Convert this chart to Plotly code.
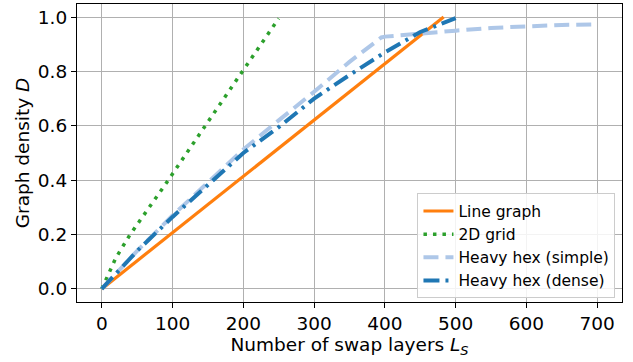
import plotly.graph_objects as go

# Data
line_x = [0, 483]
line_d = [0.0, 1.0]

grid_x = [0, 10, 20, 40, 60, 90, 120, 160, 200, 250]
grid_d = [0.0, 0.055, 0.115, 0.2, 0.272, 0.385, 0.5, 0.655, 0.805, 0.995]

simple_x = [0, 50, 100, 150, 200, 250, 300, 350, 395, 400, 450, 500, 550, 600, 650, 700]
simple_d = [0.0, 0.14, 0.27, 0.39, 0.513, 0.62, 0.725, 0.835, 0.925, 0.928, 0.94, 0.95, 0.96, 0.967, 0.971, 0.973]

dense_x = [0, 50, 100, 150, 200, 250, 300, 350, 400, 450, 500]
dense_d = [0.0, 0.14, 0.265, 0.385, 0.50, 0.595, 0.70, 0.787, 0.87, 0.945, 0.996]

x_ticks = [0, 100, 200, 300, 400, 500, 600, 700]
y_ticks = [0.0, 0.2, 0.4, 0.6, 0.8, 1.0]

FONT = "DejaVu Sans"
TICK_SIZE = 18.5
LEG_SIZE = 15.5

fig = go.Figure()
fig.add_trace(go.Scatter(x=line_x, y=line_d, mode="lines", name="Line graph",
                         line=dict(color="#ff7f0e", width=3.2)))
fig.add_trace(go.Scatter(x=grid_x, y=grid_d, mode="lines", name="2D grid",
                         line=dict(color="#2ca02c", width=3.5, dash="3.5px,6px")))
fig.add_trace(go.Scatter(x=simple_x, y=simple_d, mode="lines", name="Heavy hex (simple)",
                         line=dict(color="#aec7e8", width=4, dash="15px,7px")))
fig.add_trace(go.Scatter(x=dense_x, y=dense_d, mode="lines", name="Heavy hex (dense)",
                         line=dict(color="#1f77b4", width=4, dash="16px,6px,3px,6px")))

axis_common = dict(
    showgrid=True, gridcolor="#b0b0b0", gridwidth=1,
    showline=True, linecolor="black", linewidth=1.2, mirror=True,
    ticks="outside", ticklen=5, tickcolor="black", tickwidth=1,
    zeroline=False, automargin=False,
    tickfont=dict(family=FONT, size=TICK_SIZE, color="black"),
)

fig.update_xaxes(range=[-35, 735], tickvals=x_ticks,
                 ticktext=[str(v) for v in x_ticks],
                 title=dict(text="Number of swap layers <i>L</i><sub><i>S</i></sub>",
                            font=dict(family=FONT, size=TICK_SIZE, color="black"), standoff=1),
                 **axis_common)
fig.update_yaxes(range=[-0.048, 1.048], tickvals=y_ticks,
                 ticktext=[f"{v:.1f}" for v in y_ticks],
                 title=dict(text="Graph density <i>D</i>",
                            font=dict(family=FONT, size=TICK_SIZE, color="black"), standoff=3),
                 **axis_common)

fig.update_layout(
    width=633, height=362,
    margin=dict(l=77, r=11, t=4, b=60),
    plot_bgcolor="white", paper_bgcolor="white",
    font=dict(family=FONT, color="black"),
    legend=dict(x=0.988, y=0.012, xanchor="right", yanchor="bottom",
                bgcolor="rgba(255,255,255,0.85)", bordercolor="#cccccc", borderwidth=1,
                font=dict(family=FONT, size=LEG_SIZE, color="black"),
                tracegroupgap=0, itemwidth=30),
    showlegend=True,
)

fig.write_html("out.html",
               config={"displayModeBar": False},
               post_script="document.body.style.margin='0';document.body.style.overflow='hidden';")
